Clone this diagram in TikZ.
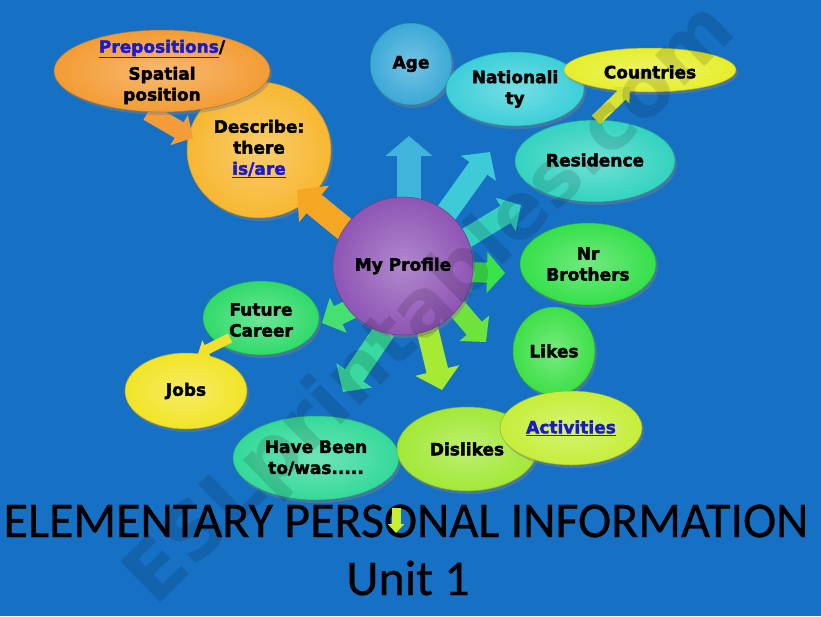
\documentclass[tikz,border=0pt]{standalone}
\usepackage{fontspec}
\setmainfont{Liberation Sans}
\newfontfamily\heavy{DejaVu Sans Bold}[FakeBold=2.2]
\newfontfamily\wmfont{DejaVu Sans Bold}
\newfontfamily\titlefont{Carlito}[FakeBold=0.6]
\usetikzlibrary{shapes.geometric,arrows.meta,shadows}
\definecolor{bgblue}{HTML}{1670C4}
\definecolor{lnkblue}{HTML}{1A1AC8}
\definecolor{cPrep}{HTML}{F39C35}
\definecolor{cDesc}{HTML}{F7B731}
\definecolor{cAge}{HTML}{3BA9D6}
\definecolor{cNat}{HTML}{3CCFD8}
\definecolor{cCoun}{HTML}{E6EE2C}
\definecolor{cRes}{HTML}{33D3C0}
\definecolor{cProf}{HTML}{8E55B5}
\definecolor{cNrb}{HTML}{35E04A}
\definecolor{cLikes}{HTML}{3EE048}
\definecolor{cAct}{HTML}{C6EE3A}
\definecolor{cDis}{HTML}{A2E837}
\definecolor{cHave}{HTML}{34D99A}
\definecolor{cFut}{HTML}{30DA6A}
\definecolor{cJobs}{HTML}{F2E427}
\definecolor{aOrange}{HTML}{F5A623}
\definecolor{aAge}{HTML}{40B4DA}
\definecolor{aNat}{HTML}{3ECAD6}
\definecolor{aRes}{HTML}{35CFC0}
\definecolor{aNrb}{HTML}{3BE34A}
\definecolor{aLikes}{HTML}{6FE23C}
\definecolor{aDis}{HTML}{A7EA34}
\definecolor{aHave}{HTML}{3AD9A0}
\definecolor{aFut}{HTML}{45E070}
\definecolor{aPrep}{HTML}{F49C3A}
\definecolor{aCoun}{HTML}{D9E235}
\definecolor{aJobs}{HTML}{F0E030}
\definecolor{aTitle}{HTML}{C8EE30}
\newcommand\lnk[1]{\textcolor{lnkblue}{\underline{#1}}}
\tikzset{
  bub/.style={ellipse, draw=#1!75!black, line width=0.5pt, inner color=#1!70!white, outer color=#1,
    drop shadow={opacity=0.45,shadow xshift=2pt,shadow yshift=-3pt}, inner sep=0pt},
  txt/.style={font=\heavy\fontsize{17}{21}\selectfont, align=center, text=black, inner sep=0pt},
  barrow/.style n args={4}{draw=#1, line width=#2, -{Triangle[length=#3,width=#4]}},
}
\begin{document}
\begin{tikzpicture}[x=1pt,y=-1pt]
\useasboundingbox (0,0) rectangle (821,616);
\fill[bgblue] (0,0) rectangle (821,616);

% Describe and Prepositions
\node[bub=cDesc, minimum width=144pt, minimum height=136pt] (desc) at (259,150) {};
\coordinate (p1) at (148,112); \coordinate (p2) at (193,138);
\draw[barrow={aPrep}{18pt}{16pt}{34pt}] (p1) -- (p2);
\node[bub=cPrep, minimum width=216pt, minimum height=82pt] (prep) at (162,71) {};
\node[txt] (prep-t) at (162,72) {\lnk{Prepositions}/\\[6pt]Spatial\\position};
\node[txt] (desc-t) at (259,149) {Describe:\\there\\\lnk{is/are}};

% top right group
\node[bub=cAge, minimum width=82pt, minimum height=82pt] (age) at (411,64) {};
\node[txt] (age-t) at (411,64) {Age};
\node[bub=cNat, minimum width=138pt, minimum height=74pt] (nat) at (515,89) {};
\node[txt] (nat-t) at (515,89) {Nationali\\ty};
\node[bub=cCoun, minimum width=172pt, minimum height=44pt] (coun) at (650,70) {};
\node[txt] (coun-t) at (650,72) {Countries};
\node[bub=cRes, minimum width=160pt, minimum height=82pt] (res) at (595,161) {};
\node[txt] (res-t) at (595,160) {Residence};
\coordinate (c1) at (596,120); \coordinate (c2) at (630,87);
\draw[barrow={aCoun}{12pt}{12pt}{22pt}] (c1) -- (c2);

% right and bottom group
\node[bub=cNrb, minimum width=136pt, minimum height=82pt] (nrb) at (588,264) {};
\node[txt] (nrb-t) at (588,264) {Nr\\Brothers};
\node[bub=cLikes, minimum width=82pt, minimum height=88pt] (likes) at (554,351) {};
\node[txt] (likes-t) at (554,351) {Likes};
\node[bub=cHave, minimum width=166pt, minimum height=84pt] (have) at (316,458) {};
\node[txt] (have-t) at (316,458) {Have Been\\to/was.....};
\node[bub=cDis, minimum width=140pt, minimum height=84pt] (dis) at (467,449) {};
\node[txt] (dis-t) at (467,449) {Dislikes};
\node[bub=cAct, minimum width=142pt, minimum height=74pt] (act) at (571,428) {};
\node[txt] (act-t) at (571,428) {\lnk{Activities}};
\node[bub=cFut, minimum width=116pt, minimum height=74pt] (fut) at (261,318) {};
\node[txt] (fut-t) at (261,320) {Future\\Career};
\node[bub=cJobs, minimum width=122pt, minimum height=76pt] (jobs) at (186,391) {};
\node[txt] (jobs-t) at (186,391) {Jobs};
\coordinate (j1) at (230,338); \coordinate (j2) at (198,354);
\draw[barrow={aJobs}{10pt}{10pt}{20pt}] (j1) -- (j2);

% arrows from My Profile
\coordinate (a1t) at (358,240); \coordinate (a1h) at (297,190);
\coordinate (a2t) at (409,215); \coordinate (a2h) at (409,136);
\coordinate (a3t) at (440,222); \coordinate (a3h) at (490,152);
\coordinate (a4t) at (455,245); \coordinate (a4h) at (521,205);
\coordinate (a5t) at (460,272); \coordinate (a5h) at (505,273);
\coordinate (a6t) at (450,300); \coordinate (a6h) at (486,342);
\coordinate (a7t) at (425,320); \coordinate (a7h) at (442,390);
\coordinate (a8t) at (385,330); \coordinate (a8h) at (343,392);
\coordinate (a9t) at (370,300); \coordinate (a9h) at (322,323);
\draw[barrow={aOrange}{24pt}{22pt}{46pt}] (a1t) -- (a1h);
\draw[barrow={aAge}{24pt}{20pt}{46pt}] (a2t) -- (a2h);
\draw[barrow={aNat}{22pt}{20pt}{42pt}] (a3t) -- (a3h);
\draw[barrow={aRes}{20pt}{18pt}{38pt}] (a4t) -- (a4h);
\draw[barrow={aNrb}{20pt}{18pt}{40pt}] (a5t) -- (a5h);
\draw[barrow={aLikes}{20pt}{18pt}{38pt}] (a6t) -- (a6h);
\draw[barrow={aDis}{22pt}{20pt}{44pt}] (a7t) -- (a7h);
\draw[barrow={aHave}{22pt}{20pt}{42pt}] (a8t) -- (a8h);
\draw[barrow={aFut}{20pt}{18pt}{38pt}] (a9t) -- (a9h);
\node[bub=cProf, minimum width=140pt, minimum height=138pt] (prof) at (403,266) {};
\node[txt] (prof-t) at (403,266) {My Profile};

% title
\node[font=\titlefont\fontsize{50}{50}\selectfont, inner sep=0pt] (title) at (406,521) {ELEMENTARY PERSONAL INFORMATION};
\node[font=\titlefont\fontsize{50}{50}\selectfont, inner sep=0pt] (unit) at (408,578) {Unit 1};
\coordinate (t1) at (396,508); \coordinate (t2) at (396,533);
\draw[barrow={aTitle}{9pt}{9pt}{16pt}] (t1) -- (t2);

% watermark
\node[rotate=44.5, opacity=0.12, text=black, inner sep=0pt,
  font=\wmfont\fontsize{78}{78}\selectfont] (wm) at (432,305) {ESLprintables.com};
\end{tikzpicture}
\end{document}
